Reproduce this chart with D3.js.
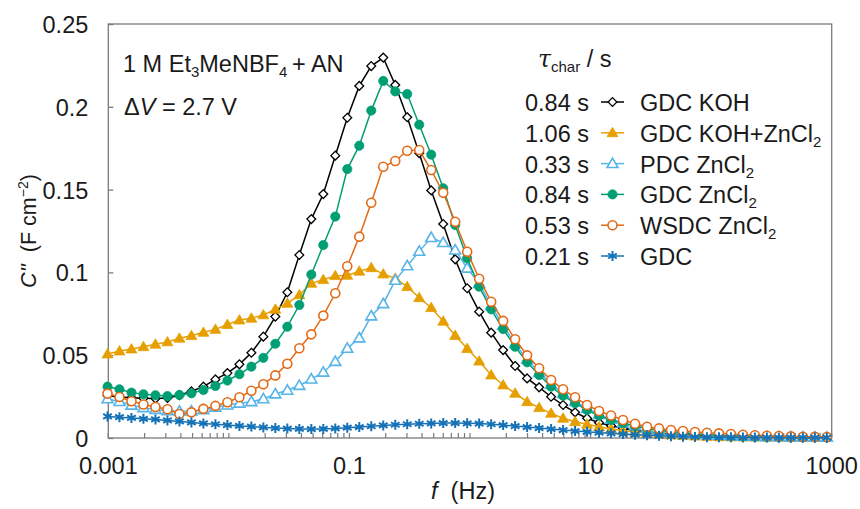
<!DOCTYPE html>
<html><head><meta charset="utf-8">
<script src="https://cdn.jsdelivr.net/npm/d3@7"></script>
<style>body{margin:0;background:#fff}svg{display:block}text{font-family:"Liberation Sans",Arial,sans-serif;fill:#1a1a1a}</style>
</head><body><svg id="c" width="860" height="509"></svg>
<script>
const freq = [0.000985,0.001238,0.001557,0.001957,0.002461,0.003094,0.00389,0.004892,0.00615,0.007734,
0.009723,0.01223,0.01537,0.01932,0.02429,0.03055,0.0384,0.04829,0.06071,0.07633,
0.09598,0.1207,0.1517,0.1908,0.2399,0.3016,0.3792,0.4768,0.5995,0.7536,
0.9476,1.191,1.498,1.883,2.368,2.977,3.743,4.706,5.917,7.439,
9.354,11.76,14.79,18.59,23.38,29.39,36.95,46.46,58.42,73.45,
92.35,116.1,146.0,183.5,230.7,290.1,364.8,458.6,576.7,725.1,911.7];

const gdcKOH = [0.0255,0.0248,0.0243,0.0240,0.0238,0.0242,0.0258,0.0282,0.0310,0.0354,
0.0392,0.0445,0.0515,0.0612,0.0733,0.0880,0.1105,0.1322,0.1473,0.1705,
0.1934,0.2126,0.2246,0.2297,0.2132,0.1937,0.1720,0.1495,0.1292,0.1079,
0.0904,0.0763,0.0636,0.0531,0.0435,0.0360,0.0306,0.0249,0.0199,0.0155,
0.0119,0.0092,0.0074,0.0058,0.0047,0.0038,0.0030,0.0024,0.0019,0.0015,
0.0012,0.0010,0.0008,0.0007,0.0006,0.0005,0.0004,0.0004,0.0003,0.0003,0.0003];

const gdcKOHZn = [0.0507,0.0525,0.0537,0.0551,0.0566,0.0580,0.0602,0.0618,0.0638,0.0656,
0.0685,0.0712,0.0723,0.0743,0.0777,0.0813,0.0864,0.0934,0.0956,0.0980,
0.0982,0.1007,0.1028,0.0990,0.0964,0.0914,0.0847,0.0787,0.0705,0.0619,
0.0540,0.0464,0.0380,0.0320,0.0270,0.0219,0.0183,0.0149,0.0119,0.0098,
0.0083,0.0068,0.0055,0.0045,0.0036,0.0029,0.0023,0.0018,0.0014,0.0011,
0.0009,0.0007,0.0006,0.0005,0.0005,0.0004,0.0004,0.0003,0.0003,0.0003,0.0003];

const pdcZn = [0.0236,0.0220,0.0198,0.0183,0.0172,0.0165,0.0162,0.0163,0.0170,0.0185,
0.0199,0.0210,0.0219,0.0236,0.0266,0.0288,0.0317,0.0356,0.0397,0.0462,
0.0541,0.0604,0.0737,0.0811,0.0952,0.1040,0.1127,0.1210,0.1180,0.1135,
0.1025,0.0934,0.0800,0.0680,0.0570,0.0475,0.0395,0.0325,0.0268,0.0220,
0.0178,0.0142,0.0113,0.0091,0.0073,0.0058,0.0047,0.0038,0.0031,0.0025,
0.0020,0.0016,0.0013,0.0011,0.0009,0.0008,0.0007,0.0006,0.0005,0.0005,0.0004];

const gdcZn = [0.0310,0.0294,0.0274,0.0264,0.0258,0.0253,0.0260,0.0270,0.0290,0.0314,
0.0347,0.0385,0.0431,0.0484,0.0569,0.0672,0.0803,0.0987,0.1165,0.1337,
0.1624,0.1765,0.1977,0.2156,0.2093,0.2077,0.1892,0.1711,0.1508,0.1286,
0.1085,0.0914,0.0777,0.0658,0.0551,0.0457,0.0380,0.0310,0.0255,0.0210,
0.0169,0.0135,0.0109,0.0089,0.0072,0.0058,0.0047,0.0038,0.0031,0.0025,
0.0020,0.0016,0.0013,0.0011,0.0009,0.0008,0.0007,0.0006,0.0005,0.0005,0.0004];

const wsdcZn = [0.0268,0.0248,0.0222,0.0202,0.0187,0.0174,0.0145,0.0155,0.0176,0.0194,
0.0216,0.0246,0.0285,0.0325,0.0378,0.0448,0.0542,0.0626,0.0739,0.0874,
0.1037,0.1216,0.1421,0.1638,0.1673,0.1735,0.1739,0.1618,0.1481,0.1306,
0.1125,0.0962,0.0823,0.0707,0.0596,0.0499,0.0421,0.0350,0.0294,0.0246,
0.0199,0.0163,0.0136,0.0109,0.0086,0.0068,0.0058,0.0048,0.0042,0.0036,
0.0032,0.0028,0.0024,0.0020,0.0017,0.0014,0.0012,0.0010,0.0008,0.0007,0.0006];

const gdc = [0.0130,0.0126,0.0121,0.0116,0.0112,0.0106,0.0100,0.0094,0.0088,0.0083,
0.0078,0.0073,0.0069,0.0064,0.0060,0.0057,0.0055,0.0054,0.0055,0.0058,
0.0062,0.0066,0.0071,0.0076,0.0080,0.0083,0.0086,0.0088,0.0090,0.0090,
0.0089,0.0087,0.0083,0.0078,0.0072,0.0066,0.0060,0.0054,0.0048,0.0042,
0.0037,0.0032,0.0028,0.0024,0.0020,0.0016,0.0013,0.0010,0.0008,0.0006,
0.0005,0.0004,0.0004,0.0003,0.0003,0.0003,0.0002,0.0002,0.0002,0.0002,0.0002];

const seriesNames = ["GDC KOH","GDC KOH+ZnCl","PDC ZnCl","GDC ZnCl","WSDC ZnCl","GDC"];
const seriesSub = ["","2","2","2","2",""];
const tauLabels = ["0.84 s","1.06 s","0.33 s","0.84 s","0.53 s","0.21 s"];
const seriesColors = ["#000000","#E69F00","#56B4E9","#009E73","#E36A17","#1572B6"];
const seriesMarkers = ["diamondOpen","triangleFilled","triangleOpen","circleFilled","circleOpen","asterisk"];
const seriesValues = [gdcKOH,gdcKOHZn,pdcZn,gdcZn,wsdcZn,gdc];
const yTicks = [0,0.05,0.1,0.15,0.2,0.25];
const yTickLabels = ["0","0.05","0.1","0.15","0.2","0.25"];
const xTickLabels = [0.001,0.1,10,1000];
const xTickText = ["0.001","0.1","10","1000"];

const svg = d3.select("#c");
const L=108.3,R=831.7,T=24,B=438;
const x = d3.scaleLog().domain([0.001,1000]).range([L,R]);
const y = d3.scaleLinear().domain([0,0.25]).range([B,T]);
const axisCol="#7a7a7a";
const FT=23.5, FL=23.5, FS=15;

// frame
svg.append("rect").attr("x",L).attr("y",T).attr("width",R-L).attr("height",B-T)
  .attr("fill","none").attr("stroke",axisCol).attr("stroke-width",1.3);

// y ticks (inward)
const ya = d3.axisLeft(y).tickValues(yTicks).tickSize(-5).tickFormat((d,i)=>yTickLabels[i]).tickPadding(20);
const gy = svg.append("g").attr("transform",`translate(${L},0)`).call(ya);
gy.select(".domain").remove();
gy.selectAll(".tick line").attr("stroke",axisCol).attr("stroke-width",1.3);
gy.selectAll(".tick text").attr("font-size",FT).attr("fill","#1a1a1a").attr("font-family","Liberation Sans, Arial, sans-serif").attr("dy","0.36em");

// x ticks: minor + major inward
const minor=[];
for(let e=-3;e<3;e++){for(let m=1;m<10;m++){minor.push(m*Math.pow(10,e));}}
minor.push(1000);
svg.append("g").selectAll("line").data(minor).join("line")
  .attr("x1",d=>x(d)).attr("x2",d=>x(d)).attr("y1",B).attr("y2",B-5)
  .attr("stroke",axisCol).attr("stroke-width",1.2);
svg.append("g").selectAll("text").data(xTickLabels).join("text")
  .attr("x",d=>x(d)).attr("y",474).attr("text-anchor","middle").attr("font-size",FT)
  .text((d,i)=>xTickText[i]);

// axis titles
const xt = svg.append("text").attr("x",463).attr("y",499).attr("text-anchor","middle").attr("font-size",FL);
xt.append("tspan").attr("font-style","italic").text("f");
xt.append("tspan").text("\u00a0 (Hz)");
const yt = svg.append("text").attr("transform","translate(36,231) rotate(-90)").attr("text-anchor","middle").attr("font-size",21.5);
yt.append("tspan").attr("font-style","italic").text("C''");
yt.append("tspan").text("\u00a0 (F cm");
yt.append("tspan").attr("font-size",14).attr("dy",-8).text("\u22122");
yt.append("tspan").attr("dy",8).text(")");

// markers
function markerPath(type,r){
  if(type.startsWith("diamond")) return `M0,${-r}L${r},0L0,${r}L${-r},0Z`;
  if(type.startsWith("triangle")) return `M0,${-r*1.05}L${r*1.05},${r*0.75}L${-r*1.05},${r*0.75}Z`;
  if(type.startsWith("circle")) return `M${r},0A${r},${r} 0 1,1 ${-r},0A${r},${r} 0 1,1 ${r},0Z`;
  const a=r*0.866, b=r*0.5;
  return `M0,${-r}L0,${r}M${-a},${-b}L${a},${b}M${-a},${b}L${a},${-b}`;
}
function drawMarker(g,type,col){
  const sizes={diamondOpen:4.4,triangleFilled:5.2,triangleOpen:5.2,circleFilled:4.6,circleOpen:4.5,asterisk:5};
  const p=g.append("path").attr("d",markerPath(type,sizes[type]));
  if(type==="asterisk") p.attr("fill","none").attr("stroke",col).attr("stroke-width",2);
  else if(type.endsWith("Open")) p.attr("fill","#fff").attr("stroke",col).attr("stroke-width",type==="diamondOpen"?1.3:1.6);
  else p.attr("fill",col).attr("stroke",col).attr("stroke-width",0.8);
}

const line = d3.line().x(d=>x(d[0])).y(d=>y(d[1]));
const plot = svg.append("g");
seriesValues.forEach((vals,si)=>{
  const pts = freq.map((f,i)=>[f,vals[i]]);
  const g = plot.append("g");
  g.append("path").attr("d",line(pts)).attr("fill","none").attr("stroke",seriesColors[si]).attr("stroke-width",1.5);
  pts.forEach(p=>{
    const mg=g.append("g").attr("transform",`translate(${x(p[0])},${y(p[1])})`);
    drawMarker(mg,seriesMarkers[si],seriesColors[si]);
  });
});

// annotations
const a1 = svg.append("text").attr("x",123).attr("y",72).attr("font-size",FL);
a1.append("tspan").text("1 M Et");
a1.append("tspan").attr("font-size",FS).attr("dy",5).text("3");
a1.append("tspan").attr("dy",-5).text("MeNBF");
a1.append("tspan").attr("font-size",FS).attr("dy",5).text("4");
a1.append("tspan").attr("dy",-5).text("\u2009+ AN");
const a2 = svg.append("text").attr("x",124).attr("y",115).attr("font-size",FL);
a2.append("tspan").text("\u0394");
a2.append("tspan").attr("font-style","italic").text("V");
a2.append("tspan").text(" = 2.7 V");

// legend
const lt = svg.append("text").attr("x",538).attr("y",67).attr("font-size",FL);
lt.append("tspan").attr("font-style","italic").attr("font-family","DejaVu Serif, serif").text("\u03c4");
lt.append("tspan").attr("font-size",FS).attr("dy",5).text("char");
lt.append("tspan").attr("dy",-5).text(" / s");

seriesNames.forEach((n,i)=>{
  const by = 111 + i*30.8;
  svg.append("text").attr("x",589).attr("y",by).attr("text-anchor","end").attr("font-size",FL).text(tauLabels[i]);
  svg.append("line").attr("x1",601).attr("x2",624).attr("y1",by-9).attr("y2",by-9)
    .attr("stroke",seriesColors[i]).attr("stroke-width",1.5);
  const mg=svg.append("g").attr("transform",`translate(612.5,${by-9})`);
  drawMarker(mg,seriesMarkers[i],seriesColors[i]);
  const t=svg.append("text").attr("x",640).attr("y",by).attr("font-size",FL);
  t.append("tspan").text(n);
  if(seriesSub[i]) t.append("tspan").attr("font-size",FS).attr("dy",5).text(seriesSub[i]);
});
</script></body></html>
